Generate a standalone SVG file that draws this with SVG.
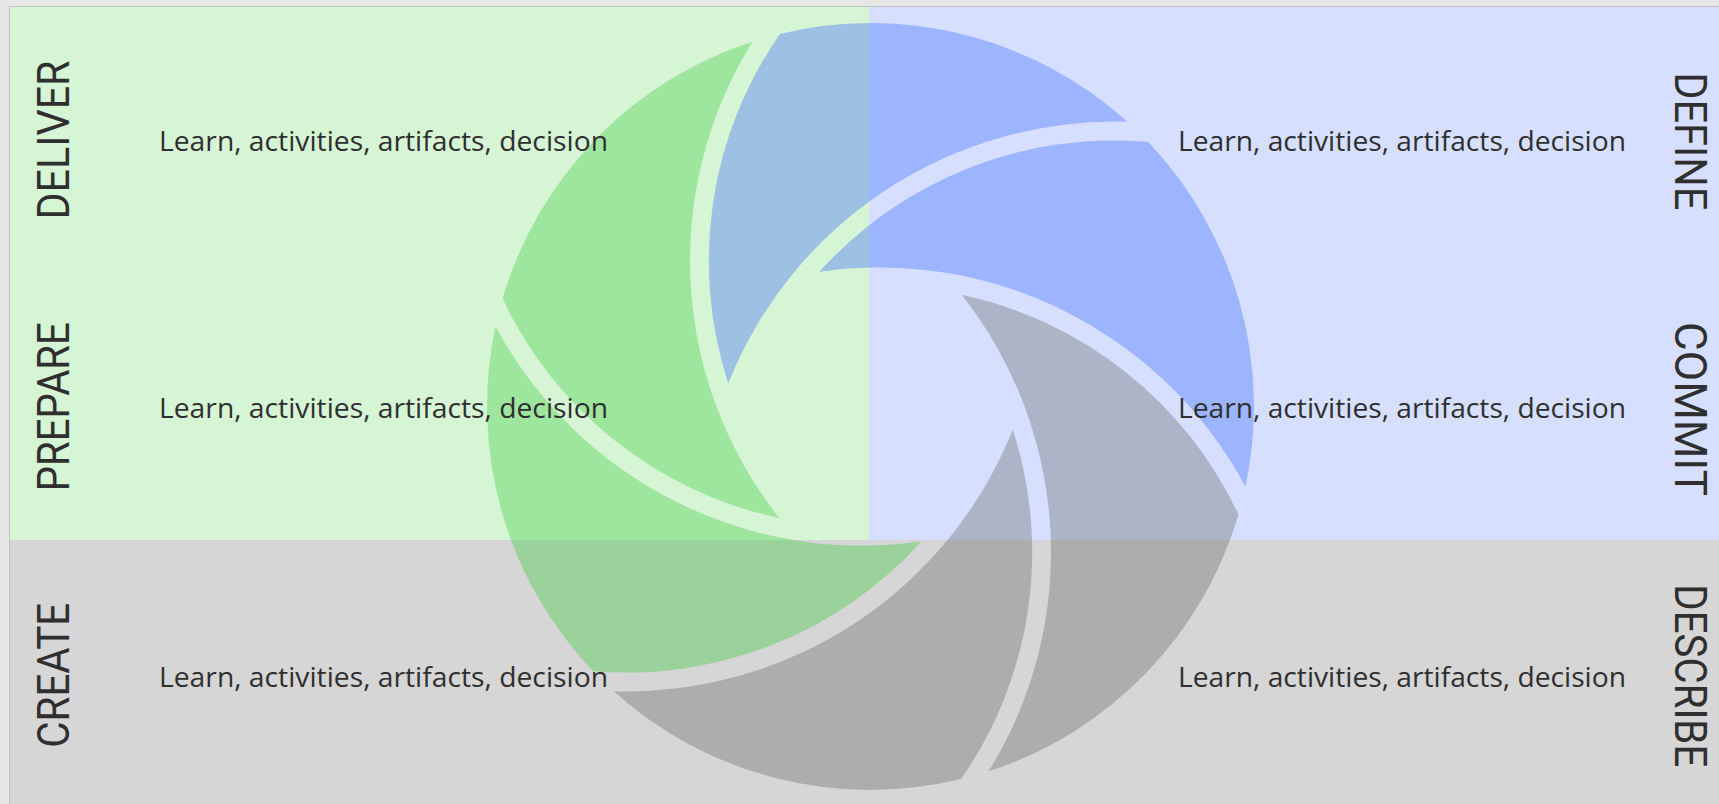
<svg xmlns="http://www.w3.org/2000/svg" xmlns:xlink="http://www.w3.org/1999/xlink" width="1719" height="804" viewBox="0 0 1719 804">
<style>
.body{font-family:"Open Sans","Noto Sans","Liberation Sans",sans-serif;font-size:26.5px;fill:#2f2f2f;font-variant-ligatures:none}
.lbl{font-family:Roboto,"Liberation Sans",sans-serif;font-size:45px;fill:#2f2f2f}
#rg .bl{fill:#9cc1e3} #rg .gy{fill:#acc6ac} #rg .gr{fill:#9ee69e}
#rb .bl{fill:#9db4fe} #rb .gy{fill:#adb4c8} #rb .gr{fill:#9fd2bc}
#ry .bl{fill:#9fb0c8} #ry .gy{fill:#adadad} #ry .gr{fill:#9bd19b}
</style>
<defs>
<path id="blade" d="M780.0 33.9 A383.5 383.5 0 0 1 1127.4 121.8 A415.7 415.7 0 0 0 728.2 383.4 A397 397 0 0 1 780.0 33.9 Z"/>
<clipPath id="clipG"><rect x="10" y="7" width="859" height="533"/></clipPath>
<clipPath id="clipB"><rect x="869" y="7" width="850" height="533"/></clipPath>
<clipPath id="clipY"><rect x="10" y="540" width="1709" height="264"/></clipPath>
</defs>
<g id="background">
<rect width="1719" height="804" fill="#e7e7e7"/>
<rect x="9.5" y="6.5" width="1712" height="800" fill="none" stroke="#c4c4c4"/>
<rect x="10" y="7" width="859" height="533" fill="#d5f5d5"/>
<rect x="869" y="7" width="850" height="533" fill="#d6e0fe"/>
<rect x="10" y="540" width="1709" height="264" fill="#d6d6d6"/>
</g>
<g id="shutter">
<g id="rg" clip-path="url(#clipG)">
<use xlink:href="#blade" class="bl"/>
<use xlink:href="#blade" class="bl" transform="rotate(60 870.5 406.5)"/>
<use xlink:href="#blade" class="gy" transform="rotate(120 870.5 406.5)"/>
<use xlink:href="#blade" class="gy" transform="rotate(180 870.5 406.5)"/>
<use xlink:href="#blade" class="gr" transform="rotate(240 870.5 406.5)"/>
<use xlink:href="#blade" class="gr" transform="rotate(300 870.5 406.5)"/>
</g>
<g id="rb" clip-path="url(#clipB)">
<use xlink:href="#blade" class="bl"/>
<use xlink:href="#blade" class="bl" transform="rotate(60 870.5 406.5)"/>
<use xlink:href="#blade" class="gy" transform="rotate(120 870.5 406.5)"/>
<use xlink:href="#blade" class="gy" transform="rotate(180 870.5 406.5)"/>
<use xlink:href="#blade" class="gr" transform="rotate(240 870.5 406.5)"/>
<use xlink:href="#blade" class="gr" transform="rotate(300 870.5 406.5)"/>
</g>
<g id="ry" clip-path="url(#clipY)">
<use xlink:href="#blade" class="bl"/>
<use xlink:href="#blade" class="bl" transform="rotate(60 870.5 406.5)"/>
<use xlink:href="#blade" class="gy" transform="rotate(120 870.5 406.5)"/>
<use xlink:href="#blade" class="gy" transform="rotate(180 870.5 406.5)"/>
<use xlink:href="#blade" class="gr" transform="rotate(240 870.5 406.5)"/>
<use xlink:href="#blade" class="gr" transform="rotate(300 870.5 406.5)"/>
</g>
</g>
<g id="connectors"/>
<g id="deliver">
<text class="lbl" transform="translate(69 140) rotate(-90)" text-anchor="middle" textLength="159" lengthAdjust="spacingAndGlyphs">DELIVER</text>
<text class="body" x="159" y="150.7" textLength="449" lengthAdjust="spacingAndGlyphs">Learn, activities, artifacts, decision</text>
</g>
<g id="prepare">
<text class="lbl" transform="translate(69 406.7) rotate(-90)" text-anchor="middle" textLength="169" lengthAdjust="spacingAndGlyphs">PREPARE</text>
<text class="body" x="159" y="418.3" textLength="449" lengthAdjust="spacingAndGlyphs">Learn, activities, artifacts, decision</text>
</g>
<g id="create">
<text class="lbl" transform="translate(69 675.3) rotate(-90)" text-anchor="middle" textLength="145" lengthAdjust="spacingAndGlyphs">CREATE</text>
<text class="body" x="159" y="687.3" textLength="449" lengthAdjust="spacingAndGlyphs">Learn, activities, artifacts, decision</text>
</g>
<g id="define">
<text class="lbl" transform="translate(1675 141.3) rotate(90)" text-anchor="middle" textLength="138" lengthAdjust="spacingAndGlyphs">DEFINE</text>
<text class="body" x="1178" y="150.7" textLength="448" lengthAdjust="spacingAndGlyphs">Learn, activities, artifacts, decision</text>
</g>
<g id="commit">
<text class="lbl" transform="translate(1675 409) rotate(90)" text-anchor="middle" textLength="174" lengthAdjust="spacingAndGlyphs">COMMIT</text>
<text class="body" x="1178" y="418.3" textLength="448" lengthAdjust="spacingAndGlyphs">Learn, activities, artifacts, decision</text>
</g>
<g id="describe">
<text class="lbl" transform="translate(1675 675.8) rotate(90)" text-anchor="middle" textLength="183" lengthAdjust="spacingAndGlyphs">DESCRIBE</text>
<text class="body" x="1178" y="687.3" textLength="448" lengthAdjust="spacingAndGlyphs">Learn, activities, artifacts, decision</text>
</g>
</svg>
